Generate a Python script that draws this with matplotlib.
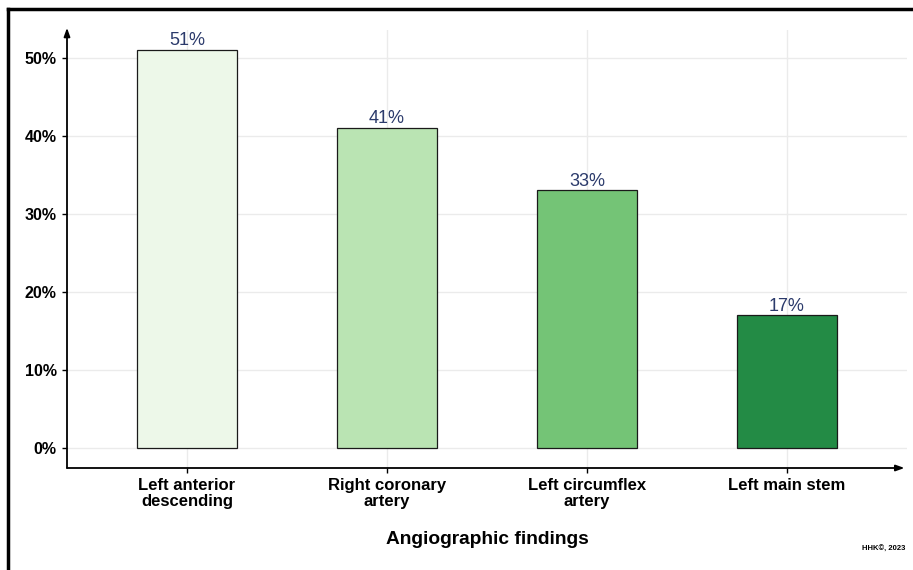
import matplotlib.pyplot as plt
from matplotlib.ticker import PercentFormatter
from matplotlib.lines import Line2D

categories = ["Left anterior\ndescending", "Right coronary\nartery",
              "Left circumflex\nartery", "Left main stem"]
shares = [51, 41, 33, 17]
bar_colors = ["#EDF8E9", "#BAE4B3", "#74C476", "#238B45"]
y_ticks = [0, 10, 20, 30, 40, 50]

plt.rcParams['font.family'] = ['Liberation Sans', 'DejaVu Sans']

fig = plt.figure(figsize=(9.13, 5.70), dpi=100)
ax = fig.add_axes([67 / 913, 102 / 570, 840 / 913, 438 / 570])

x = list(range(1, len(categories) + 1))
ax.bar(x, shares, width=0.5, color=bar_colors, edgecolor="#1a1a1a",
       linewidth=0.9, zorder=3)
for xi, v in zip(x, shares):
    ax.annotate(f"{v}%", (xi, v), xytext=(0, 0.5), textcoords="offset points",
                ha="center", va="bottom", fontsize=13, color="#2B3A6B",
                zorder=4)

ax.set_xlim(0.4, 4.6)
ax.set_ylim(-0.05 * max(shares), 1.05 * max(shares))
ax.set_xticks(x)
ax.set_xticklabels(categories, fontsize=12, fontweight="bold",
                   linespacing=1.05)
ax.set_yticks(y_ticks)
ax.yaxis.set_major_formatter(PercentFormatter(decimals=0))
for lab in ax.get_yticklabels():
    lab.set_fontweight("bold")
    lab.set_fontsize(11.5)
ax.tick_params(axis="both", length=3.5, width=1, color="black", pad=4)
ax.tick_params(axis="x", pad=4)

ax.grid(True, color="#EBEBEB", linewidth=1, zorder=0)
for s in ax.spines.values():
    s.set_visible(False)

# axis lines with arrowheads
ax.annotate("", xy=(0, 1.005), xytext=(0, 0), xycoords="axes fraction",
            arrowprops=dict(arrowstyle="-|>,head_length=0.5,head_width=0.18",
                            color="black", lw=1.3, shrinkA=0, shrinkB=0))
ax.annotate("", xy=(0.997, 0), xytext=(0, 0), xycoords="axes fraction",
            arrowprops=dict(arrowstyle="-|>,head_length=0.5,head_width=0.18",
                            color="black", lw=1.3, shrinkA=0, shrinkB=0))

ax.set_xlabel("Angiographic findings", fontsize=13.8, fontweight="bold",
              labelpad=16)

fig.text(905 / 913, 1 - 549 / 570, "HHK©, 2023", fontsize=5.5,
         fontweight="bold", ha="right", va="center")

# frame along the top and left edges
fig.add_artist(Line2D([8 / 913, 1], [1 - 9 / 570, 1 - 9 / 570],
                      transform=fig.transFigure, color="black", lw=2.5))
fig.add_artist(Line2D([8 / 913, 8 / 913], [0, 1 - 9 / 570],
                      transform=fig.transFigure, color="black", lw=2.5))

fig.savefig("out.png", dpi=100)
